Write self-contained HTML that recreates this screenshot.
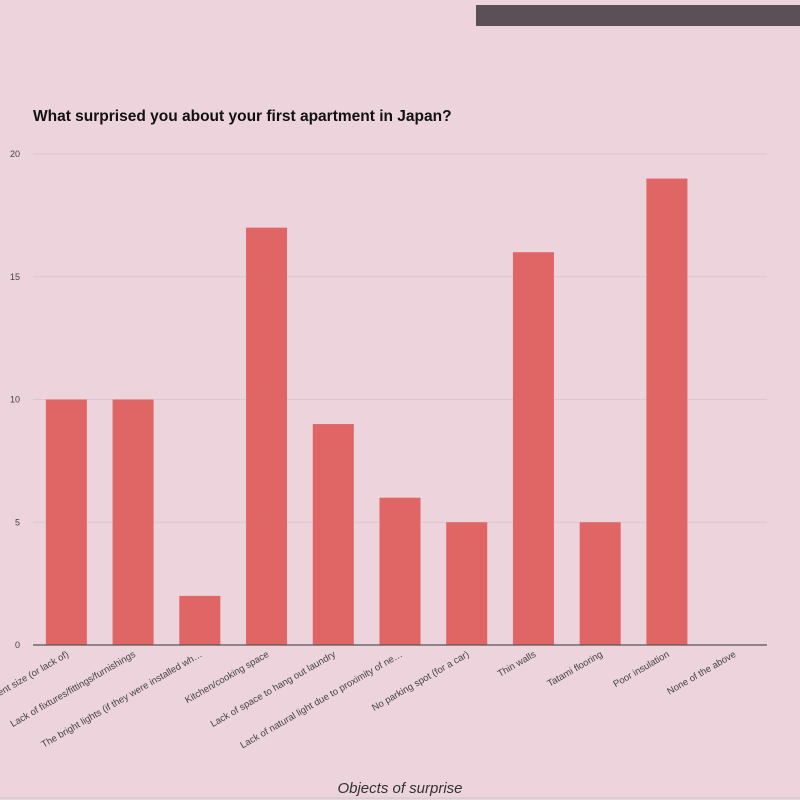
<!DOCTYPE html>
<html><head><meta charset="utf-8"><style>
body{margin:0;background:#ecd3dc;font-family:"Liberation Sans",sans-serif;}
svg{display:block}
</style></head><body>
<svg id="chart" width="800" height="800" viewBox="0 0 800 800">
<rect x="0" y="0" width="800" height="800" fill="#ecd3dc"/>
<rect x="476" y="5" width="324" height="21" fill="#5a5055"/>
<text x="33" y="121" font-size="15.5" font-weight="bold" fill="#111">What surprised you about your first apartment in Japan?</text>
<g id="grid"></g><g id="bars"></g><g id="xlabels"></g>
<line x1="33" y1="645" x2="767" y2="645" stroke="#555" stroke-width="1.2"/>
<text x="400" y="793" font-size="15" font-style="italic" fill="#333" text-anchor="middle">Objects of surprise</text>
<line x1="0" y1="798" x2="800" y2="798" stroke="#d8cfd3" stroke-width="2"/>
</svg>
<script>
const categories=["Apartment size (or lack of)","Lack of fixtures/fittings/furnishings","The bright lights (if they were installed wh…","Kitchen/cooking space","Lack of space to hang out laundry","Lack of natural light due to proximity of ne…","No parking spot (for a car)","Thin walls","Tatami flooring","Poor insulation","None of the above"];
const values=[10,10,2,17,9,6,5,16,5,19,0];
const yTicks=[0,5,10,15,20];
const NS="http://www.w3.org/2000/svg";
const x0=33,x1=767,y0=645,y1=154,yMax=20;
const bw=(x1-x0)/categories.length;
function yScale(v){return y0-(v/yMax)*(y0-y1);}
function xCenter(i){return x0+bw*(i+0.5);}
const grid=document.getElementById('grid'),bars=document.getElementById('bars'),xl=document.getElementById('xlabels');
yTicks.forEach(t=>{
  const y=yScale(t);
  if(t>0){const l=document.createElementNS(NS,'line');
  
  
  l.setAttribute('x1',x0);l.setAttribute('x2',x1);l.setAttribute('y1',y);l.setAttribute('y2',y);
  l.setAttribute('stroke','#dcc6cf');l.setAttribute('stroke-width','1');grid.appendChild(l);}
  const tx=document.createElementNS(NS,'text');
  
  
  tx.setAttribute('x',20);tx.setAttribute('y',y+3);tx.setAttribute('text-anchor','end');
  tx.setAttribute('font-size','9');tx.setAttribute('fill','#444');tx.textContent=t;grid.appendChild(tx);
});
categories.forEach((c,i)=>{
  const cx=xCenter(i),w=41,y=yScale(values[i]);
  if(values[i]>0){const r=document.createElementNS(NS,'rect');
  
  
  r.setAttribute('x',cx-w/2);r.setAttribute('y',y);r.setAttribute('width',w);r.setAttribute('height',y0-y);
  r.setAttribute('fill','#e06666');bars.appendChild(r);}
  const t=document.createElementNS(NS,'text');
  
  
  t.setAttribute('text-anchor','end');t.setAttribute('font-size','9.5');t.setAttribute('fill','#444');
  t.setAttribute('transform','translate('+(cx+3)+',656) rotate(-30)');
  t.textContent=c;xl.appendChild(t);
});
</script>
</body></html>
